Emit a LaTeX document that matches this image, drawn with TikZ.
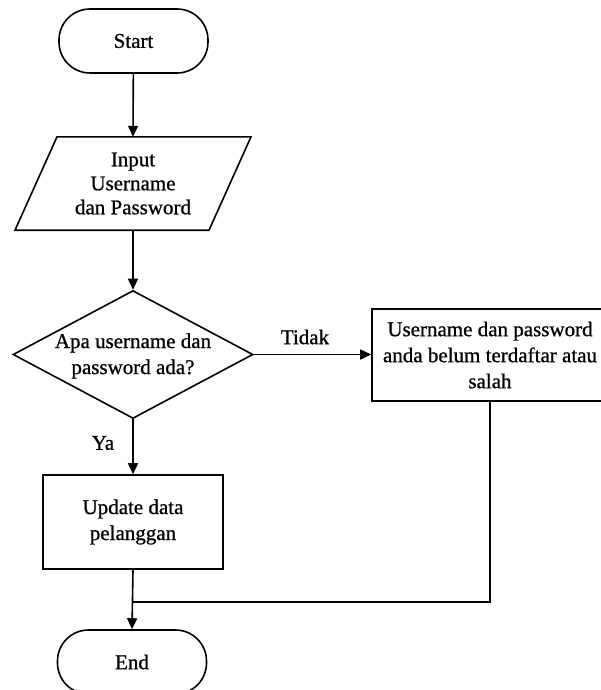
\documentclass[tikz,border=0pt]{standalone}
\usepackage{fontspec}
\setmainfont{Liberation Serif}[FakeBold=0.8]
\usetikzlibrary{arrows.meta,shapes.geometric}
\begin{document}
\begin{tikzpicture}[x=1pt,y=-1pt,
  every node/.style={font=\fontsize{21}{26}\selectfont},
  line/.style={line width=1.6pt},
  flow/.style={line, -{Triangle[length=11pt,width=10pt]}},
  terminal/.style={draw, line width=1.6pt, rounded corners=31pt,
    minimum width=149pt, minimum height=64pt, inner sep=0pt},
  process/.style={draw, line width=1.6pt, align=center, inner sep=0pt},
  plain/.style={align=center, inner sep=0pt}
]
\useasboundingbox (0,0) rectangle (601,690);

% terminals
\node[terminal] (start) at (133.5,41) {Start};
\node[terminal] (end) at (132,662) {End};

% input (parallelogram drawn around a text node)
\node[plain, minimum width=150pt, minimum height=93pt,
      font=\fontsize{21}{24}\selectfont] (inp) at (133,183.5)
      {Input\\Username\\dan Password};
\draw[line] ([xshift=-76pt]inp.north) -- ([xshift=118pt]inp.north)
  -- ([xshift=76pt]inp.south) -- ([xshift=-118pt]inp.south) -- cycle;

% decision
\node[diamond, draw, line width=1.6pt, aspect=1.875, inner sep=0pt,
      minimum width=240pt, minimum height=128pt] (ask) at (133,354.5) {};
\node[plain] (asktext) at (133,356) {Apa username dan\\password ada?};

% processes
\node[process, minimum width=180pt, minimum height=94pt] (upd) at (133,522)
  {Update data\\pelanggan};
\node[process, minimum width=236pt, minimum height=92pt] (err) at (490,355)
  {Username dan password\\anda belum terdaftar atau\\salah};

% branch labels
\node[plain] (tidak) at (305,337) {Tidak};
\node[plain] (ya) at (103,443) {Ya};

% connectors
\coordinate (merge) at (133,602);
\draw[flow] (start) -- (inp.north);
\draw[flow] (inp.south) -- (ask.north);
\draw[flow] (ask.east) -- (ask.east -| err.west);
\draw[flow] (ask.south) -- (upd.north);
\draw[flow] (upd.south) -- (end.north);
\draw[line] (err.south) |- (merge);
\end{tikzpicture}
\end{document}
